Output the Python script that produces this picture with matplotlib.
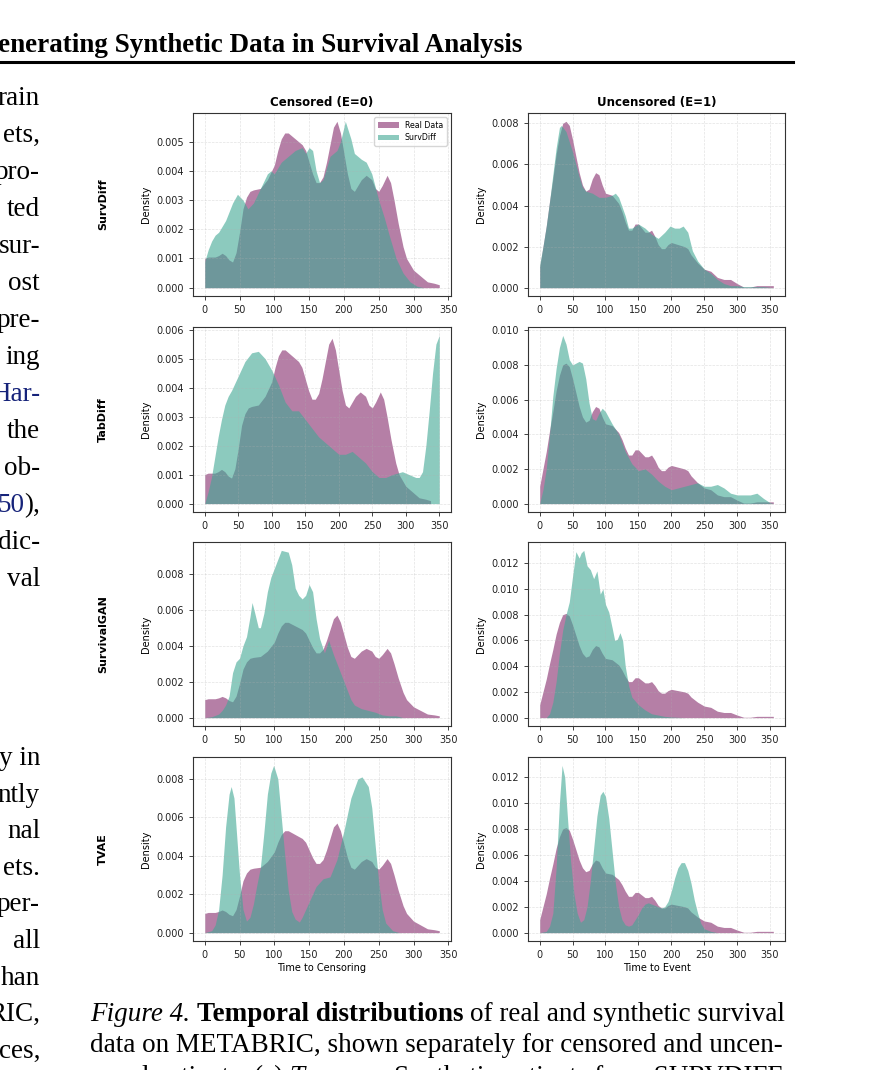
import numpy as np
import matplotlib
matplotlib.use('Agg')
import matplotlib.pyplot as plt
from matplotlib.lines import Line2D
from matplotlib.ticker import MaxNLocator

# ---- data (time, density) ----
real_cens_t = [0, 5, 10, 15, 20, 25, 30, 35, 40, 45, 50, 55, 60, 65, 70, 80, 90, 100, 105, 110,
               115, 120, 130, 140, 145, 150, 155, 160, 165, 170, 175, 180, 185, 190, 195, 200, 205, 210, 215, 220,
               225, 232, 240, 245, 250, 255, 262, 267, 272, 278, 285, 290, 300, 310, 320, 330, 337]
real_cens_d = [0.00100, 0.00105, 0.00105, 0.00105, 0.00110, 0.00118, 0.00110, 0.00095, 0.00088, 0.00120,
               0.00190, 0.00270, 0.00310, 0.00330, 0.00335, 0.00340, 0.00370, 0.00420, 0.00470, 0.00510,
               0.00530, 0.00530, 0.00510, 0.00490, 0.00470, 0.00430, 0.00390, 0.00360, 0.00360, 0.00380,
               0.00430, 0.00490, 0.00550, 0.00570, 0.00530, 0.00460, 0.00390, 0.00340, 0.00330, 0.00350,
               0.00370, 0.00385, 0.00370, 0.00340, 0.00330, 0.00350, 0.00385, 0.00360, 0.00300, 0.00220,
               0.00140, 0.00100, 0.00060, 0.00040, 0.00020, 0.00015, 0.00010]

real_unc_t = [0, 5, 10, 15, 20, 25, 30, 35, 40, 45, 50, 55, 60, 65, 70, 75, 80, 85, 90, 95, 100,
              110, 120, 125, 130, 135, 140, 145, 150, 155, 160, 165, 170, 175, 180, 185, 190, 195, 200,
              210, 220, 225, 230, 240, 250, 260, 270, 280, 290, 300, 310, 320, 330, 340, 355]
real_unc_d = [0.0010, 0.0020, 0.0030, 0.0042, 0.0053, 0.0065, 0.0074, 0.0080, 0.0081, 0.0079, 0.0072,
              0.0064, 0.0056, 0.0050, 0.0047, 0.0048, 0.0053, 0.0056, 0.0055, 0.0050, 0.0046,
              0.0045, 0.0041, 0.0037, 0.0032, 0.0028, 0.0028, 0.0031, 0.0031, 0.0029, 0.0027, 0.0027,
              0.0028, 0.0025, 0.0021, 0.0019, 0.0019, 0.0021, 0.0022,
              0.0021, 0.0020, 0.0019, 0.0016, 0.0012, 0.0009, 0.0008, 0.0005, 0.0004, 0.0004, 0.0002,
              0.00003, 0.00003, 0.0001, 0.0001, 0.0001]

survdiff_cens_t = [0, 5, 10, 15, 20, 25, 30, 35, 40, 47, 55, 62, 70, 80, 90, 95, 100, 110, 120, 130,
                   140, 145, 150, 155, 160, 165, 170, 180, 190, 195, 202, 210, 215, 225, 232, 240, 250, 258,
                   265, 275, 285, 295, 305, 315]
survdiff_cens_d = [0.0009, 0.0013, 0.0016, 0.0018, 0.0019, 0.0021, 0.0023, 0.0026, 0.0029, 0.0032,
                   0.0030, 0.0027, 0.0029, 0.0034, 0.0039, 0.0040, 0.0039, 0.0043, 0.0045, 0.0047,
                   0.0048, 0.0046, 0.0048, 0.0047, 0.0040, 0.0036, 0.0037, 0.0045, 0.0047, 0.0050,
                   0.0057, 0.0051, 0.0046, 0.0044, 0.0043, 0.0039, 0.0030, 0.0024, 0.0018, 0.0010,
                   0.0005, 0.0002, 0.00005, 0.0]

survdiff_unc_t = [0, 5, 10, 15, 20, 25, 30, 33, 40, 50, 60, 65, 70, 80, 90, 100, 110, 115, 120, 130,
                  135, 140, 150, 160, 170, 180, 190, 198, 205, 212, 218, 225, 232, 240, 250, 260, 270,
                  280, 290, 300, 310, 320, 340, 355]
survdiff_unc_d = [0.0011, 0.0020, 0.0030, 0.0042, 0.0055, 0.0068, 0.0078, 0.0079, 0.0076, 0.0066,
                  0.0054, 0.0049, 0.0047, 0.0046, 0.0044, 0.0044, 0.0045, 0.0046, 0.0044, 0.0035,
                  0.0029, 0.0029, 0.0031, 0.0029, 0.0026, 0.0024, 0.0027, 0.0030, 0.0029, 0.0029,
                  0.0030, 0.0027, 0.0018, 0.0013, 0.0009, 0.0007, 0.0004, 0.0002, 0.0001, 0.0001,
                  0.00005, 0.00005, 0.00005, 0.0]

tabdiff_cens_t = [0, 5, 10, 15, 20, 25, 30, 35, 40, 50, 60, 70, 80, 90, 100, 110, 115, 120, 130, 140,
                  150, 160, 170, 180, 190, 200, 210, 220, 230, 240, 250, 260, 270, 280, 295, 305, 315,
                  320, 325, 330, 335, 340, 345, 350]
tabdiff_cens_d = [0.0, 0.0004, 0.0009, 0.0016, 0.0023, 0.0029, 0.0034, 0.0037, 0.0039, 0.0044,
                  0.0049, 0.0052, 0.00525, 0.0050, 0.0046, 0.0041, 0.0038, 0.0035, 0.0032, 0.0032,
                  0.0029, 0.0026, 0.0023, 0.0021, 0.0019, 0.0017, 0.0017, 0.0018, 0.0016, 0.0014,
                  0.0011, 0.0009, 0.0009, 0.0010, 0.0011, 0.0010, 0.0009, 0.0009, 0.0011, 0.0020,
                  0.0032, 0.0045, 0.0055, 0.0058]

tabdiff_unc_t = [0, 5, 10, 15, 20, 25, 30, 35, 40, 45, 50, 55, 60, 65, 70, 75, 80, 85, 90, 95, 100,
                 110, 120, 130, 140, 150, 160, 170, 180, 190, 200, 210, 220, 230, 240, 250, 260, 270,
                 280, 290, 300, 310, 320, 330, 340, 350, 355]
tabdiff_unc_d = [0.0, 0.0008, 0.0020, 0.0040, 0.0062, 0.0078, 0.0090, 0.0097, 0.0092, 0.0083, 0.0080,
                 0.0081, 0.0082, 0.0081, 0.0072, 0.0058, 0.0049, 0.0048, 0.0052, 0.0055, 0.0053,
                 0.0046, 0.0040, 0.0030, 0.0023, 0.0019, 0.0020, 0.0017, 0.0013, 0.0010, 0.0008,
                 0.0009, 0.0010, 0.0011, 0.0012, 0.0010, 0.0010, 0.0011, 0.0009, 0.0006, 0.0005,
                 0.0005, 0.0005, 0.0006, 0.0003, 0.00005, 0.0]

survgan_cens_t = [0, 10, 20, 25, 30, 35, 40, 45, 50, 55, 60, 65, 68, 72, 77, 80, 85, 90, 95, 100,
                  105, 110, 120, 125, 130, 135, 140, 145, 150, 155, 160, 165, 172, 178, 185, 195, 205,
                  210, 215, 225, 235, 245, 255, 265, 275, 285, 300]
survgan_cens_d = [0.0, 0.00005, 0.0002, 0.0004, 0.0007, 0.0012, 0.0025, 0.0031, 0.0033, 0.0040,
                  0.0045, 0.0056, 0.0064, 0.0058, 0.0050, 0.0050, 0.0058, 0.0070, 0.0078, 0.0083,
                  0.0088, 0.0093, 0.0092, 0.0085, 0.0072, 0.0068, 0.0066, 0.0068, 0.0074, 0.0070,
                  0.0055, 0.0044, 0.0036, 0.0043, 0.0035, 0.0025, 0.0015, 0.0010, 0.0007, 0.0005,
                  0.0004, 0.0003, 0.00015, 0.0001, 0.0001, 0.0, 0.0]

survgan_unc_t = [0, 10, 15, 20, 25, 30, 35, 40, 45, 50, 55, 60, 63, 67, 72, 77, 82, 87, 92, 96,
                 100, 105, 110, 114, 118, 122, 126, 130, 135, 140, 150, 160, 170, 180, 190, 200, 220, 250]
survgan_unc_d = [0.0, 0.0, 0.0003, 0.0012, 0.0028, 0.0050, 0.0068, 0.0080, 0.0090, 0.0110,
                 0.0129, 0.0124, 0.0128, 0.0130, 0.0118, 0.0115, 0.0108, 0.0114, 0.0096, 0.0100,
                 0.0088, 0.0082, 0.0070, 0.0060, 0.0061, 0.0066, 0.0060, 0.0040, 0.0025, 0.0016,
                 0.0010, 0.0006, 0.0003, 0.0002, 0.0001, 0.00005, 0.0, 0.0]

tvae_cens_t = [0, 10, 15, 20, 25, 30, 35, 38, 42, 45, 50, 55, 60, 65, 70, 75, 80, 85, 90, 95,
               99, 105, 110, 115, 120, 125, 130, 136, 140, 150, 160, 170, 180, 190, 200, 210, 220,
               226, 235, 240, 245, 250, 255, 260, 270, 280, 300]
tvae_cens_d = [0.0, 0.0001, 0.0004, 0.0012, 0.0030, 0.0055, 0.0072, 0.0076, 0.0070, 0.0055,
               0.0030, 0.0012, 0.0006, 0.0008, 0.0015, 0.0025, 0.0034, 0.0052, 0.0072, 0.0083,
               0.0087, 0.0080, 0.0060, 0.0040, 0.0022, 0.0011, 0.0007, 0.00055, 0.0008, 0.0016,
               0.0024, 0.0028, 0.0029, 0.0038, 0.0053, 0.0070, 0.0080, 0.0081, 0.0076, 0.0065,
               0.0045, 0.0026, 0.0012, 0.0005, 0.0001, 0.0, 0.0]

tvae_unc_t = [0, 10, 15, 20, 25, 30, 34, 38, 42, 47, 52, 57, 62, 67, 72, 77, 82, 87, 92, 96,
              100, 105, 110, 115, 120, 125, 130, 135, 140, 145, 150, 155, 160, 165, 170, 180, 185,
              190, 195, 200, 205, 210, 215, 220, 225, 230, 235, 240, 245, 250, 260, 270, 300]
tvae_unc_d = [0.0, 0.0001, 0.0005, 0.0015, 0.0050, 0.0100, 0.0129, 0.0120, 0.0090, 0.0055,
              0.0030, 0.0015, 0.0008, 0.0010, 0.0020, 0.0040, 0.0065, 0.0090, 0.0106, 0.0109,
              0.0105, 0.0088, 0.0063, 0.0038, 0.0020, 0.0010, 0.0006, 0.0005, 0.0006, 0.0010,
              0.0014, 0.0019, 0.0022, 0.0023, 0.0022, 0.0020, 0.0019, 0.0020, 0.0024, 0.0032,
              0.0042, 0.0050, 0.0054, 0.0054, 0.0048, 0.0038, 0.0025, 0.0015, 0.0007, 0.0003,
              0.0001, 0.0, 0.0]

models = ['SurvDiff', 'TabDiff', 'SurvivalGAN', 'TVAE']
col_titles = ['Censored (E=0)', 'Uncensored (E=1)']
x_labels = ['Time to Censoring', 'Time to Event']

# page text around the figure
header_text = 'Generating Synthetic Data in Survival Analysis'
left_block_1 = ['rain', 'ets,', 'pro-', 'ted', 'sur-', 'ost', 'pre-', 'ing', 'Har-', 'the',
                'ob-', '50),', 'dic-', 'val']
left_block_2 = ['y in', 'ntly', 'nal', 'ets.', 'per-', 'all', 'han', 'RIC,', 'ces,']

REAL_COLOR = '#842a6b'
SYN_COLOR = '#3fa894'
LINK_COLOR = '#16237a'
SERIF = ['Liberation Serif', 'DejaVu Serif']
BODY_SIZE = 19.5

W, H = 883, 1070


def fx(px):
    return px / W


def fy(py):
    return 1 - py / H


fig = plt.figure(figsize=(W / 100, H / 100), dpi=100)
plt.rcParams['font.family'] = ['DejaVu Sans']
renderer = fig.canvas.get_renderer()

synthetic = [
    (survdiff_cens_t, survdiff_cens_d, survdiff_unc_t, survdiff_unc_d),
    (tabdiff_cens_t, tabdiff_cens_d, tabdiff_unc_t, tabdiff_unc_d),
    (survgan_cens_t, survgan_cens_d, survgan_unc_t, survgan_unc_d),
    (tvae_cens_t, tvae_cens_d, tvae_unc_t, tvae_unc_d),
]

col_left = [193, 528]
col_width = [258, 257]
row_top = [113, 327, 542, 757]
row_height = [183, 185, 184, 184]

for i, name in enumerate(models):
    for j in range(2):
        ax = fig.add_axes([fx(col_left[j]), fy(row_top[i] + row_height[i]),
                           col_width[j] / W, row_height[i] / H])
        if j == 0:
            rt, rd = real_cens_t, real_cens_d
            st, sd = synthetic[i][0], synthetic[i][1]
        else:
            rt, rd = real_unc_t, real_unc_d
            st, sd = synthetic[i][2], synthetic[i][3]
        ax.fill_between(rt, rd, color=REAL_COLOR, alpha=0.6, lw=0, label='Real Data')
        ax.fill_between(st, sd, color=SYN_COLOR, alpha=0.6, lw=0, label=name)
        ax.set_xticks(range(0, 351, 50))
        ax.yaxis.set_major_locator(MaxNLocator(nbins=8, steps=[1, 2, 5, 10]))
        ax.set_ylabel('Density', fontsize=7)
        ax.tick_params(labelsize=7, length=3, width=0.6, colors='#222222')
        ax.grid(True, linestyle='--', linewidth=0.5, alpha=0.35)
        for sp in ax.spines.values():
            sp.set_linewidth(0.8)
            sp.set_color('#333333')
        if i == 0:
            ax.set_title(col_titles[j], fontsize=8.5, fontweight='bold', pad=5)
        if i == 3:
            ax.set_xlabel(x_labels[j], fontsize=7, labelpad=2)
        if i == 0 and j == 0:
            ax.legend(loc='upper right', fontsize=5.7, handlelength=2.6,
                      borderpad=0.5, labelspacing=0.4)
    fig.text(fx(103), fy(row_top[i] + row_height[i] / 2), name, rotation=90,
             fontsize=8, fontweight='bold', ha='center', va='center')

# ---- page furniture: running header, left column, caption ----
fig.text(fx(522), fy(52), header_text, fontsize=19.5, fontweight='bold',
         family=SERIF, ha='right', va='baseline')
fig.add_artist(Line2D([0, fx(793)], [fy(62), fy(62)], color='black', lw=2.2))

for k, line in enumerate(left_block_1):
    y = fy(97 + 37 * k + 8)
    if line == 'Har-':
        fig.text(fx(40), y, line, fontsize=BODY_SIZE, family=SERIF, ha='right',
                 va='baseline', color=LINK_COLOR)
    elif line == '50),':
        t = fig.text(fx(40), y, '),', fontsize=BODY_SIZE, family=SERIF, ha='right', va='baseline')
        tail_w = t.get_window_extent(renderer).width
        fig.text(fx(40 - tail_w), y, '50', fontsize=BODY_SIZE, family=SERIF, ha='right',
                 va='baseline', color=LINK_COLOR)
    else:
        fig.text(fx(40), y, line, fontsize=BODY_SIZE, family=SERIF, ha='right', va='baseline')

for k, line in enumerate(left_block_2):
    fig.text(fx(40), fy(757 + 36.6 * k + 8), line, fontsize=BODY_SIZE, family=SERIF,
             ha='right', va='baseline')


def put_runs(x, y, runs, size=BODY_SIZE):
    gap = size * 100 / 72 * 0.25
    for text, style in runs:
        t = fig.text(fx(x), fy(y), text, fontsize=size, family=SERIF, va='baseline', **style)
        x += t.get_window_extent(renderer).width + gap


put_runs(90, 1021, [('Figure 4.', {'style': 'italic'}),
                    ('Temporal distributions', {'fontweight': 'bold'}),
                    ('of real and synthetic survival', {})])
put_runs(90, 1052, [('data on METABRIC, shown separately for censored and uncen-', {})])
put_runs(90, 1084, [('sored patients.', {}), ('(a)', {}), ('Top row:', {'style': 'italic'}),
                    ('Synthetic patients from SURVDIFF', {})])

fig.savefig('out.png', dpi=100)
